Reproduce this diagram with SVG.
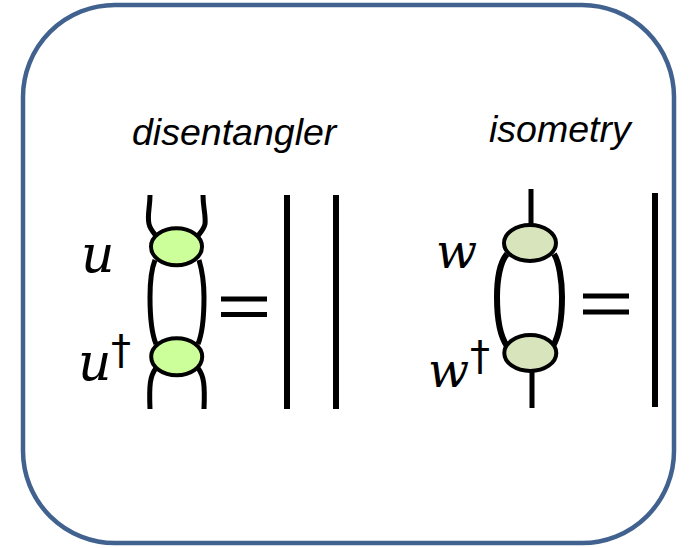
<svg xmlns="http://www.w3.org/2000/svg" width="693" height="548" viewBox="0 0 693 548">
<style>
.l{fill:none;stroke:#000;stroke-width:5}
.b{fill:none;stroke:#000;stroke-width:6}
.t{font-family:"Liberation Sans",Arial,sans-serif;font-style:italic;font-size:37.5px;fill:#000}
.m{font-family:"DejaVu Serif",serif;font-style:italic;font-size:52px;fill:#000}
.w{font-size:48px}
.d{font-family:"DejaVu Sans",sans-serif;font-size:40px;fill:#000}
.n{stroke:#000;stroke-width:4}
</style>
<rect x="23" y="5" width="651" height="538" rx="92" fill="#fff" stroke="#41628f" stroke-width="4.5"/>
<g id="connectors">
<path class="l" d="M150 195C150 208 147 215 149 224C150 229 153 232 157 237M203 195C203 208 206 215 205 224C204 229 201 232 197 237"/>
<path class="l" d="M155 260C151 270 150 282 150 297C150 315 151 332 156 344M199 260C202 270 204 282 204 297C204 315 203 332 198 344"/>
<path class="l" d="M156 368C150 376 149 385 150 409M198 368C204 376 205 385 204 409"/>
<path class="b" d="M287 195V409M336 195V409"/>
<path class="l" d="M221 299H267M221 314.500H267"/>
<path class="l" d="M531 189V226M532 372V408"/>
<path class="b" d="M507 254C500 262 497 280 497 297C497 318 500 336 507 346M554 254C559 262 562 280 562 297C562 318 559 336 553 346"/>
<path class="b" d="M655 193V407"/>
<path class="l" d="M583 296H629M583 312H629"/>
</g>
<g id="u"><ellipse class="n" cx="176.500" cy="246.700" rx="25.500" ry="18.500" fill="#ccff99"/><text class="m" x="81" y="272">u</text></g>
<g id="udag"><ellipse class="n" cx="176.700" cy="356.700" rx="25.500" ry="18.500" fill="#ccff99"/><text class="m" x="78" y="380">u</text><text class="d" x="111" y="364">†</text></g>
<g id="w"><ellipse class="n" cx="530" cy="243" rx="26" ry="18" fill="#d8e4bc"/><text class="m w" x="436" y="268">w</text></g>
<g id="wdag"><ellipse class="n" cx="530.300" cy="353" rx="26" ry="18" fill="#d8e4bc"/><text class="m w" x="428" y="387">w</text><text class="d" x="470" y="370">†</text></g>
<g id="labels"><text class="t" x="132" y="145">disentangler</text><text class="t" x="489" y="142">isometry</text></g>
</svg>
